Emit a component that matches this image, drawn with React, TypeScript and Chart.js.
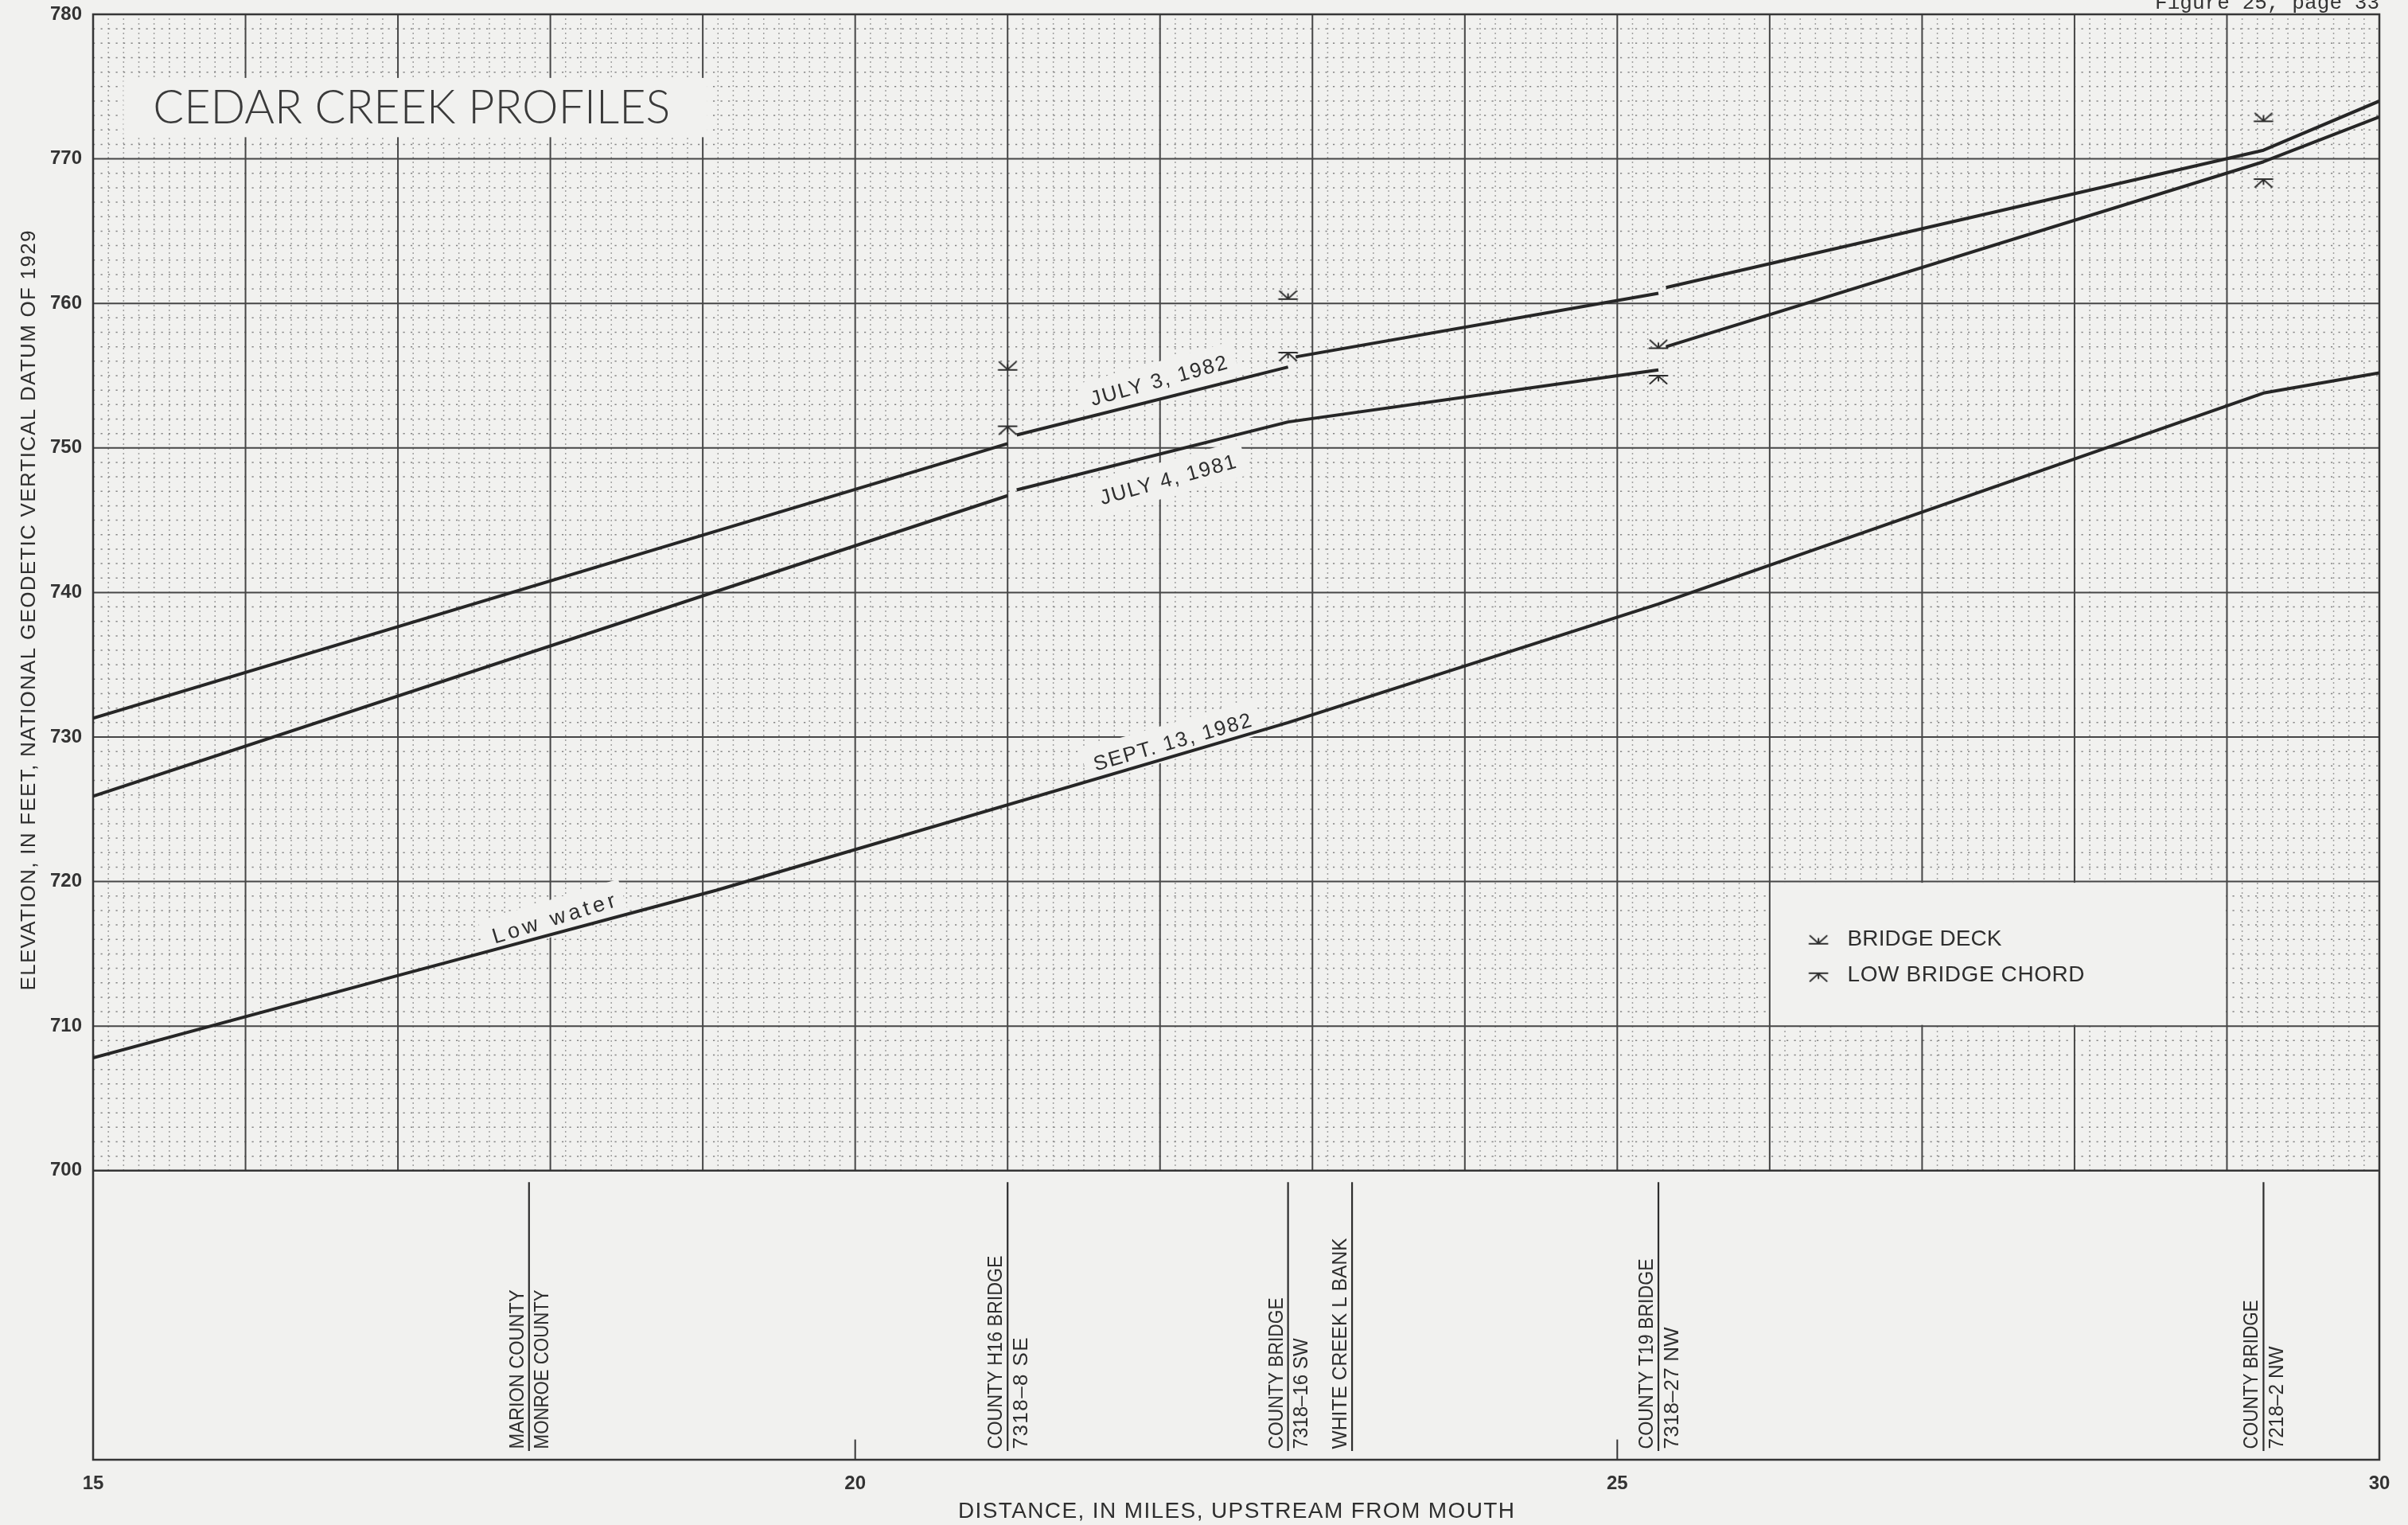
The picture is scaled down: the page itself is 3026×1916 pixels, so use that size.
import React, { useEffect, useRef } from "react";
import { Chart, registerables } from "chart.js";

Chart.register(...registerables);

// ---------------- data ----------------
const xTickValues = [15, 20, 25, 30];
const yTickValues = [700, 710, 720, 730, 740, 750, 760, 770, 780];

// July 3, 1982 flood profile (null = break at a bridge)
const july1982Miles = [15.0, 21.0, 21.03, 21.06, 22.84, 22.865, 22.89, 25.27, 25.295, 25.32, 29.24, 30.0];
const july1982Elev = [731.3, 750.3, null, 750.9, 755.6, null, 756.3, 760.7, null, 761.1, 770.6, 774.0];

// July 4, 1981 flood profile
const july1981Miles = [15.0, 21.0, 21.03, 21.06, 22.84, 25.27, 25.295, 25.32, 29.24, 30.0];
const july1981Elev = [725.9, 746.7, null, 747.1, 751.8, 755.4, null, 757.0, 769.8, 772.9];

// Sept. 13, 1982 low-water profile
const lowWaterMiles = [15.0, 17.0, 19.09, 22.84, 25.27, 29.24, 30.0];
const lowWaterElev = [707.8, 713.5, 719.4, 731.0, 739.2, 753.8, 755.2];

// bridges
const bridgeMiles = [21.0, 22.84, 25.27, 29.24];
const bridgeDeckElev = [755.4, 760.3, 756.9, 772.6];
const lowChordElev = [751.5, 756.6, 755.0, 768.6];

// sites along the stream (lower panel)
const siteMiles = [17.86, 21.0, 22.84, 23.26, 25.27, 29.24];
const siteLabelLeft = ["MARION COUNTY", "COUNTY H16 BRIDGE", "COUNTY BRIDGE", "WHITE CREEK L BANK", "COUNTY T19 BRIDGE", "COUNTY BRIDGE"];
const siteLabelRight = ["MONROE COUNTY", "7318–8 SE", "7318–16 SW", "", "7318–27 NW", "7218–2 NW"];

const profileLabels = ["JULY 3, 1982", "JULY 4, 1981", "SEPT. 13, 1982", "Low water"];
const legendLabels = ["BRIDGE DECK", "LOW BRIDGE CHORD"];
const titleText = "CEDAR CREEK PROFILES";
const yAxisTitle = "ELEVATION, IN FEET, NATIONAL GEODETIC VERTICAL DATUM OF 1929";
const xAxisTitle = "DISTANCE, IN MILES, UPSTREAM FROM MOUTH";
const figureNote = "Figure 25, page 33";

// ---------------- layout / styles ----------------
const PAPER = "#f1f1ef";
const INK = "#2e2e2e";
const SANS = '"Liberation Sans", Arial, Helvetica, sans-serif';
const siteLeftLen = [200, 243, 190, 265, 239, 187];
const siteRightLen = [200, 140, 139, 0, 153, 129];

const toPoints = (xs: number[], ys: (number | null)[]) => xs.map((x, i) => ({ x, y: ys[i] }));

function makeSymbol(kind: "deck" | "chord"): HTMLCanvasElement {
  const c = document.createElement("canvas");
  c.width = 28;
  c.height = 28;
  const g = c.getContext("2d")!;
  g.strokeStyle = INK;
  g.lineWidth = 2;
  g.lineCap = "round";
  g.beginPath();
  g.moveTo(2.5, 14);
  g.lineTo(25.5, 14);
  if (kind === "deck") {
    g.moveTo(3.5, 4);
    g.lineTo(14, 13.5);
    g.lineTo(24.5, 4);
    g.moveTo(14, 7.5);
    g.lineTo(14, 14);
  } else {
    g.moveTo(3.5, 24);
    g.lineTo(14, 14.5);
    g.lineTo(24.5, 24);
    g.moveTo(14, 14);
    g.lineTo(14, 20.5);
  }
  g.stroke();
  return c;
}

function fitted(ctx: CanvasRenderingContext2D, text: string, font: string, target: number, align: "left" | "center" | "right") {
  const c = ctx as any;
  ctx.font = font;
  c.letterSpacing = "0px";
  ctx.textAlign = "left";
  ctx.textBaseline = "alphabetic";
  const n = ctx.measureText(text).width;
  if (target >= n) {
    const sp = text.length > 1 ? (target - n) / (text.length - 1) : 0;
    c.letterSpacing = `${sp}px`;
    const x0 = align === "left" ? 0 : align === "center" ? -target / 2 : -target;
    ctx.fillText(text, x0, 0);
    c.letterSpacing = "0px";
  } else {
    ctx.save();
    ctx.scale(target / n, 1);
    const x0 = align === "left" ? 0 : align === "center" ? -n / 2 : -n;
    ctx.fillText(text, x0, 0);
    ctx.restore();
  }
}

export default function App() {
  const ref = useRef<HTMLCanvasElement>(null);

  useEffect(() => {
    document.body.style.margin = "0";
    const canvas = ref.current!;
    const deckSym = makeSymbol("deck");
    const chordSym = makeSymbol("chord");

    const paperPlugin = {
      id: "paper",
      beforeDraw(chart: any) {
        const { ctx, width, height } = chart;
        ctx.save();
        ctx.fillStyle = PAPER;
        ctx.fillRect(0, 0, width, height);
        ctx.restore();
      },
    };

    const sheetPlugin = {
      id: "sheet",
      beforeDatasetsDraw(chart: any) {
        const { ctx, chartArea: a } = chart;
        const xs = chart.scales.x;
        const ys = chart.scales.y;
        const X = (v: number) => xs.getPixelForValue(v);
        const Y = (v: number) => ys.getPixelForValue(v);
        const seg = (x1: number, y1: number, x2: number, y2: number) => {
          ctx.beginPath();
          ctx.moveTo(x1, y1);
          ctx.lineTo(x2, y2);
          ctx.stroke();
        };
        ctx.save();

        // minor dotted grid (0.1 mile x 1 foot)
        ctx.strokeStyle = "#858585";
        ctx.lineWidth = 1.5;
        ctx.setLineDash([2.2, 7.3]);
        for (let e = 701; e < 780; e++) {
          if (e % 10 === 0) continue;
          seg(X(15), Y(e), X(30), Y(e));
        }
        ctx.setLineDash([1.6, 4.4]);
        for (let k = 151; k < 300; k++) {
          if (k % 10 === 0) continue;
          seg(X(k / 10), Y(700), X(k / 10), Y(780));
        }

        // major grid
        ctx.setLineDash([]);
        ctx.strokeStyle = "#464646";
        ctx.lineWidth = 2;
        for (let e = 710; e < 780; e += 10) seg(X(15), Y(e), X(30), Y(e));
        for (let m = 16; m < 30; m++) seg(X(m), Y(700), X(m), Y(780));

        // blank title box and legend box
        ctx.fillStyle = PAPER;
        ctx.fillRect(X(15.2), Y(775.6), X(19.03) - X(15.2), Y(771.5) - Y(775.6));
        ctx.fillRect(X(26) + 1.5, Y(720) + 1.5, X(29) - X(26) - 3, Y(710) - Y(720) - 3);

        // profile labels on blank boxes
        const labelPlace = [
          { x: 21.99, y: 754.7, w: 177, ang: -15.5, size: 26 },
          { x: 22.05, y: 747.85, w: 176, ang: -15.5, size: 26 },
          { x: 22.08, y: 729.7, w: 205, ang: -16, size: 26 },
          { x: 18.02, y: 717.5, w: 160, ang: -17, size: 27 },
        ];
        profileLabels.forEach((t, i) => {
          const p = labelPlace[i];
          const cap = p.size * 0.716;
          ctx.save();
          ctx.translate(X(p.x), Y(p.y));
          ctx.rotate((p.ang * Math.PI) / 180);
          ctx.fillStyle = PAPER;
          ctx.fillRect(-p.w / 2 - 12, -cap / 2 - 13, p.w + 24, cap + 26);
          ctx.translate(0, cap / 2);
          ctx.fillStyle = INK;
          fitted(ctx, t, `${p.size}px ${SANS}`, p.w, "center");
          ctx.restore();
        });

        // frame
        ctx.strokeStyle = "#363636";
        ctx.lineWidth = 2.5;
        ctx.strokeRect(a.left, a.top, a.right - a.left, a.bottom - a.top);
        seg(a.left, Y(700), a.right, Y(700));

        // ticks at 20 and 25 on bottom border
        ctx.lineWidth = 2;
        [20, 25].forEach((m) => seg(X(m), Y(680), X(m), Y(681.4)));

        // site lines and labels in the lower panel
        ctx.fillStyle = INK;
        ctx.strokeStyle = "#2e2e2e";
        const lf = `26px ${SANS}`;
        const cap = 18.6;
        siteMiles.forEach((m, i) => {
          const lx = X(m);
          ctx.lineWidth = 2.2;
          seg(lx, Y(699.2), lx, Y(680.6));
          const base = Y(680.75);
          ctx.save();
          ctx.translate(lx - 7, base);
          ctx.rotate(-Math.PI / 2);
          fitted(ctx, siteLabelLeft[i], lf, siteLeftLen[i], "left");
          ctx.restore();
          if (siteLabelRight[i]) {
            ctx.save();
            ctx.translate(lx + 6 + cap, base);
            ctx.rotate(-Math.PI / 2);
            fitted(ctx, siteLabelRight[i], lf, siteRightLen[i], "left");
            ctx.restore();
          }
        });

        // title
        ctx.save();
        ctx.translate(X(17.09), Y(773.6) + 21);
        ctx.fillStyle = "#3a3a3a";
        fitted(ctx, titleText, `300 60px Lato, "Open Sans", ${SANS}`, 650, "center");
        ctx.restore();

        // legend
        ctx.drawImage(deckSym, X(26.32) - 14, Y(715.7) - 14);
        ctx.drawImage(chordSym, X(26.32) - 14, Y(713.66) - 14);
        ctx.save();
        ctx.fillStyle = INK;
        ctx.translate(X(26.51), Y(715.58));
        fitted(ctx, legendLabels[0], `28px ${SANS}`, 194, "left");
        ctx.restore();
        ctx.save();
        ctx.fillStyle = INK;
        ctx.translate(X(26.51), Y(713.1));
        fitted(ctx, legendLabels[1], `28px ${SANS}`, 298, "left");
        ctx.restore();

        // axis titles
        ctx.save();
        ctx.fillStyle = INK;
        ctx.translate(44, 767);
        ctx.rotate(-Math.PI / 2);
        fitted(ctx, yAxisTitle, `26px ${SANS}`, 955, "center");
        ctx.restore();
        ctx.save();
        ctx.fillStyle = INK;
        ctx.translate((a.left + a.right) / 2, 1907);
        fitted(ctx, xAxisTitle, `28px ${SANS}`, 699, "center");
        ctx.restore();

        // figure note (cut off at the top edge, as in the scan)
        ctx.save();
        ctx.fillStyle = "#333";
        ctx.translate(a.right, 11);
        fitted(ctx, figureNote, `26px "Liberation Mono", "Courier New", monospace`, 282, "right");
        ctx.restore();

        ctx.restore();
      },
    };

    const lineStyle = {
      borderColor: "#262626",
      borderWidth: 4,
      pointRadius: 0,
      spanGaps: false,
      tension: 0,
      borderJoinStyle: "round" as const,
      fill: false,
    };

    const chart = new Chart(canvas, {
      type: "line",
      data: {
        datasets: [
          { label: "July 3, 1982", data: toPoints(july1982Miles, july1982Elev), ...lineStyle },
          { label: "July 4, 1981", data: toPoints(july1981Miles, july1981Elev), ...lineStyle },
          { label: "Sept. 13, 1982", data: toPoints(lowWaterMiles, lowWaterElev), ...lineStyle },
          {
            label: "Bridge deck",
            data: toPoints(bridgeMiles, bridgeDeckElev),
            showLine: false,
            pointStyle: deckSym,
            pointRadius: 12,
          },
          {
            label: "Low bridge chord",
            data: toPoints(bridgeMiles, lowChordElev),
            showLine: false,
            pointStyle: chordSym,
            pointRadius: 12,
          },
        ] as any,
      },
      options: {
        responsive: false,
        animation: false,
        devicePixelRatio: 1,
        events: [],
        layout: { padding: { top: 18, right: 36, left: 0, bottom: 0 } },
        plugins: {
          legend: { display: false },
          title: { display: false },
          tooltip: { enabled: false },
        },
        scales: {
          x: {
            type: "linear",
            min: 15,
            max: 30,
            afterFit: (s: any) => {
              s.height = 82;
              s.paddingLeft = 0;
              s.paddingRight = 0;
            },
            afterBuildTicks: (s: any) => {
              s.ticks = xTickValues.map((v) => ({ value: v }));
            },
            ticks: {
              color: "#333",
              font: { family: SANS, size: 24, weight: "bold" },
              padding: 16,
              maxRotation: 0,
              autoSkip: false,
            },
            grid: { display: false, drawTicks: false },
            border: { display: false },
          },
          y: {
            type: "linear",
            min: 680,
            max: 780,
            afterFit: (s: any) => {
              s.width = 117;
              s.paddingTop = 0;
              s.paddingBottom = 0;
            },
            afterBuildTicks: (s: any) => {
              s.ticks = yTickValues.map((v) => ({ value: v }));
            },
            ticks: {
              color: "#333",
              font: { family: SANS, size: 24, weight: "bold" },
              padding: 14,
              autoSkip: false,
            },
            grid: { display: false, drawTicks: false },
            border: { display: false },
          },
        },
      } as any,
      plugins: [paperPlugin, sheetPlugin],
    });

    return () => chart.destroy();
  }, []);

  return <canvas ref={ref} width={3026} height={1916} style={{ display: "block", width: 3026, height: 1916 }} />;
}
